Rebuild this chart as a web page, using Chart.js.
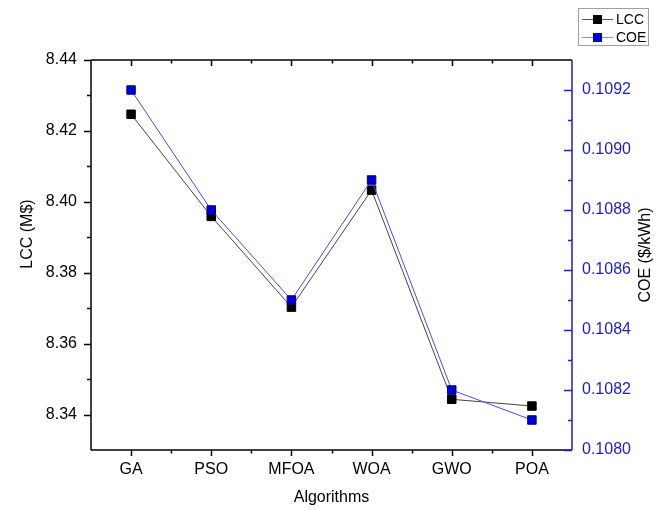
<!DOCTYPE html>
<html>
<head>
<meta charset="utf-8">
<script src="https://cdn.jsdelivr.net/npm/chart.js@4.4.1/dist/chart.umd.min.js"></script>
<style>
  body { margin: 0; background: #fff; }
  #wrap { width: 666px; height: 509px; }
</style>
</head>
<body>
<div id="wrap"><canvas id="myChart"></canvas></div>
<script>
const categories = ['GA', 'PSO', 'MFOA', 'WOA', 'GWO', 'POA'];
const lccValues = [8.4247, 8.3959, 8.3703, 8.4033, 8.3443, 8.3424];
const coeValues = [0.1092, 0.1088, 0.1085, 0.1089, 0.1082, 0.1081];
const lccTicks = [8.34, 8.36, 8.38, 8.40, 8.42, 8.44];
const coeTicks = [0.1080, 0.1082, 0.1084, 0.1086, 0.1088, 0.1090, 0.1092];

const BLUE = '#1d1dcc';
const FONT = "'Liberation Sans', Arial, sans-serif";

Chart.defaults.font.family = FONT;
Chart.defaults.font.size = 16;
Chart.defaults.color = '#000';

// frame, minor ticks, y titles and legend box
const frame = {
    id: 'frame',
    afterDraw(chart) {
        const { ctx, chartArea: a, scales } = chart;
        const x = scales.x, y = scales.y, y1 = scales.y1;
        ctx.save();
        ctx.lineWidth = 1.5;

        const tick = (x1, y1_, x2, y2, color) => {
            ctx.strokeStyle = color;
            ctx.beginPath();
            ctx.moveTo(x1, y1_);
            ctx.lineTo(x2, y2);
            ctx.stroke();
        };

        // left axis, ticks outside
        tick(a.left, a.top, a.left, a.bottom, '#000');
        lccTicks.forEach(v => {
            const p = Math.round(y.getPixelForValue(v)) + 0.5;
            tick(a.left, p, a.left - 7, p, '#000');
        });
        for (let v = 8.35; v < 8.44; v += 0.02) {
            const p = Math.round(y.getPixelForValue(v)) + 0.5;
            tick(a.left, p, a.left - 4, p, '#000');
        }

        // bottom and top axes
        tick(a.left, a.bottom, a.right, a.bottom, '#000');
        tick(a.left, a.top, a.right, a.top, '#000');
        categories.forEach((c, i) => {
            const p = Math.round(x.getPixelForValue(i)) + 0.5;
            tick(p, a.bottom, p, a.bottom + 6, '#000');
            tick(p, a.top, p, a.top + 6, '#000');
            if (i < categories.length - 1) {
                const m = Math.round(x.getPixelForValue(i + 0.5)) + 0.5;
                tick(m, a.bottom, m, a.bottom + 3.5, '#000');
                tick(m, a.top, m, a.top + 3.5, '#000');
            }
        });

        // right axis in blue, ticks inside
        tick(a.right, a.top, a.right, a.bottom, BLUE);
        coeTicks.forEach(v => {
            const p = Math.round(y1.getPixelForValue(v)) + 0.5;
            tick(a.right, p, a.right - 8, p, BLUE);
        });
        for (let v = 0.1081; v < 0.1093; v += 0.0002) {
            const p = Math.round(y1.getPixelForValue(v)) + 0.5;
            tick(a.right, p, a.right - 4, p, BLUE);
        }

        // rotated y axis titles
        ctx.fillStyle = '#000';
        ctx.font = '16px ' + FONT;
        ctx.textAlign = 'center';
        ctx.textBaseline = 'middle';
        ctx.save();
        ctx.translate(28, 234);
        ctx.rotate(-Math.PI / 2);
        ctx.fillText('LCC (M$)', 0, 0);
        ctx.restore();
        ctx.save();
        ctx.translate(646, 255);
        ctx.rotate(-Math.PI / 2);
        ctx.fillText('COE ($/kWh)', 0, 0);
        ctx.restore();

        // legend
        ctx.lineWidth = 1;
        ctx.strokeStyle = '#a0a0a0';
        ctx.strokeRect(578.5, 8.5, 70, 37);
        ctx.font = '14px ' + FONT;
        const items = [
            { label: 'LCC', line: '#555', fill: '#000', y: 19 },
            { label: 'COE', line: '#8c8cf0', fill: '#0000c8', y: 37 }
        ];
        items.forEach(it => {
            tick(582, it.y + 0.5, 613, it.y + 0.5, it.line);
            ctx.fillStyle = it.fill;
            ctx.fillRect(593, it.y - 4, 9, 9);
            ctx.fillStyle = '#000';
            ctx.textAlign = 'left';
            ctx.fillText(it.label, 616, it.y + 1);
        });
        ctx.restore();
    }
};

const ctx = document.getElementById('myChart').getContext('2d');
const myChart = new Chart(ctx, {
    type: 'line',
    data: {
        labels: categories,
        datasets: [{
            label: 'LCC',
            data: lccValues,
            yAxisID: 'y',
            order: 1,
            borderColor: '#444',
            borderWidth: 1,
            backgroundColor: '#000',
            pointStyle: 'rect',
            pointRadius: 6,
            pointBorderWidth: 1,
            pointBorderColor: '#000',
            pointBackgroundColor: '#000',
            tension: 0
        }, {
            label: 'COE',
            data: coeValues,
            yAxisID: 'y1',
            order: 0,
            borderColor: '#4848ff',
            borderWidth: 1,
            backgroundColor: '#0000c8',
            pointStyle: 'rect',
            pointRadius: 6,
            pointBorderWidth: 1,
            pointBorderColor: '#00009a',
            pointBackgroundColor: '#0000c8',
            tension: 0
        }]
    },
    options: {
        responsive: true,
        maintainAspectRatio: false,
        animation: false,
        layout: { padding: { top: 60, left: 0, right: 0, bottom: 0 } },
        plugins: {
            legend: { display: false },
            tooltip: { enabled: false }
        },
        scales: {
            x: {
                type: 'category',
                offset: true,
                grid: { display: false, drawTicks: false },
                border: { display: false },
                ticks: { padding: 10, color: '#000' },
                title: {
                    display: true,
                    text: 'Algorithms',
                    color: '#000',
                    padding: { top: 0, bottom: 2 }
                },
                afterFit(scale) { scale.height = 59; }
            },
            y: {
                position: 'left',
                min: 8.33,
                max: 8.44,
                grid: { display: false, drawTicks: false },
                border: { display: false },
                afterBuildTicks(scale) { scale.ticks = lccTicks.map(v => ({ value: v })); },
                ticks: {
                    padding: 14,
                    color: '#000',
                    callback: function(value) { return value.toFixed(2); }
                },
                afterFit(scale) { scale.width = 91; }
            },
            y1: {
                position: 'right',
                min: 0.1080,
                max: 0.1093,
                grid: { display: false, drawTicks: false },
                border: { display: false },
                afterBuildTicks(scale) { scale.ticks = coeTicks.map(v => ({ value: v })); },
                ticks: {
                    padding: 10,
                    color: BLUE,
                    callback: function(value) { return value.toFixed(4); }
                },
                afterFit(scale) { scale.width = 94; }
            }
        }
    },
    plugins: [frame]
});
</script>
</body>
</html>
